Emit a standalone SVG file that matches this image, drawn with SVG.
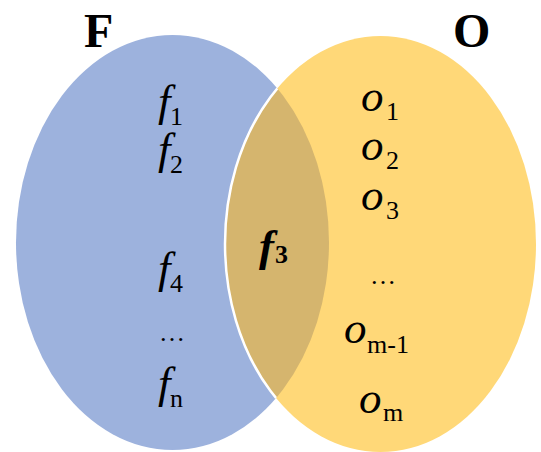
<svg xmlns="http://www.w3.org/2000/svg" width="541" height="452" viewBox="0 0 541 452">
  <style>
    .t { font-family: "Liberation Serif", "Times New Roman", serif; fill: #000; }
    .main { font-size: 45px; font-style: italic; }
    .sub { font-size: 26px; font-style: normal; }
    .title { font-size: 48px; font-weight: bold; }
    .dots { font-size: 26px; }
  </style>
  <defs>
    <clipPath id="clipBlue">
      <ellipse cx="172.5" cy="242.5" rx="156.5" ry="207.5"/>
    </clipPath>
  </defs>

  <g id="set-F">
    <ellipse cx="172.5" cy="242.5" rx="156.5" ry="207.5" fill="#9DB2DD"/>
  </g>
  <g id="set-O">
    <ellipse cx="380.5" cy="244" rx="155.5" ry="208" fill="#FFD878"/>
  </g>
  <g id="intersection" clip-path="url(#clipBlue)">
    <ellipse cx="380.5" cy="244" rx="155.5" ry="208" fill="#D5B56E" stroke="#FFFFFF" stroke-width="2.5"/>
  </g>

  <g id="label-F"><text class="t title" x="84" y="47">F</text></g>
  <g id="label-O"><text class="t title" x="453" y="47">O</text></g>

  <g id="f1"><text class="t main" x="158" y="116">f</text><text class="t sub" x="170" y="125">1</text></g>
  <g id="f2"><text class="t main" x="158" y="164">f</text><text class="t sub" x="170" y="173">2</text></g>
  <g id="f4"><text class="t main" x="158" y="283">f</text><text class="t sub" x="170" y="292">4</text></g>
  <g id="f-dots"><text class="t dots" x="159" y="341">…</text></g>
  <g id="fn"><text class="t main" x="158" y="398">f</text><text class="t sub" x="170" y="407">n</text></g>

  <g id="f3"><text class="t main" x="259" y="261" font-weight="bold">f</text><text class="t sub" x="275" y="263" font-weight="bold" font-size="28">3</text></g>

  <g id="o1"><text class="t main" x="361" y="111">o</text><text class="t sub" x="386" y="120">1</text></g>
  <g id="o2"><text class="t main" x="361" y="160">o</text><text class="t sub" x="386" y="169">2</text></g>
  <g id="o3"><text class="t main" x="361" y="210">o</text><text class="t sub" x="386" y="219">3</text></g>
  <g id="o-dots"><text class="t dots" x="370" y="284">…</text></g>
  <g id="om-1"><text class="t main" x="344" y="343">o</text><text class="t sub" x="367" y="353">m-1</text></g>
  <g id="om"><text class="t main" x="359" y="413">o</text><text class="t sub" x="383" y="421">m</text></g>
</svg>
